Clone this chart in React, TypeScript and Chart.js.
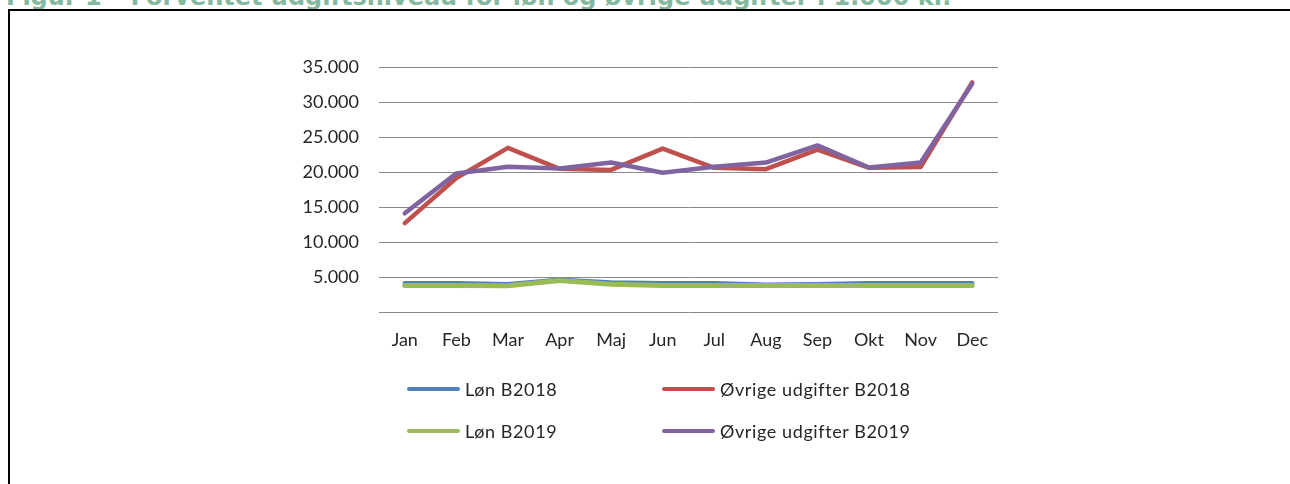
import React, { useEffect, useRef } from "react";
import { Chart, registerables } from "chart.js";

Chart.register(...registerables);

const months = ["Jan", "Feb", "Mar", "Apr", "Maj", "Jun", "Jul", "Aug", "Sep", "Okt", "Nov", "Dec"];
const lonB2018 = [4100, 4100, 3950, 4600, 4200, 4100, 4100, 3900, 3950, 4100, 4100, 4100];
const ovrigeB2018 = [12700, 19150, 23450, 20450, 20300, 23350, 20600, 20400, 23200, 20600, 20700, 32800];
const lonB2019 = [3800, 3800, 3750, 4500, 3950, 3800, 3800, 3800, 3800, 3800, 3800, 3800];
const ovrigeB2019 = [14100, 19800, 20750, 20500, 21350, 19900, 20750, 21350, 23800, 20650, 21350, 32600];
const seriesNames = ["Løn B2018", "Øvrige udgifter B2018", "Løn B2019", "Øvrige udgifter B2019"];
const seriesColors = ["#4F81BD", "#C0504D", "#9BBB59", "#8064A2"];
const seriesWidths = [4.5, 4.5, 5, 4.5];
const yTicks = [0, 5000, 10000, 15000, 20000, 25000, 30000, 35000];
const titleText = "Figur 1 \u2013 Forventet udgiftsniveau for løn og øvrige udgifter i 1.000 kr.";

const fmt = (v: number) => (v === 0 ? "" : String(v).replace(/\B(?=(\d{3})+(?!\d))/g, "."));

const textFont = "Lato, 'Open Sans', sans-serif";
const textColor = "#262626";

export default function App() {
  const ref = useRef<HTMLCanvasElement | null>(null);

  useEffect(() => {
    if (!ref.current) return;
    const allSeries = [lonB2018, ovrigeB2018, lonB2019, ovrigeB2019];
    const drawOrder = [4, 3, 2, 1];
    const chart = new Chart(ref.current, {
      type: "line",
      data: {
        labels: months,
        datasets: allSeries.map((d, i) => ({
          label: seriesNames[i],
          data: d,
          borderColor: seriesColors[i],
          backgroundColor: seriesColors[i],
          borderWidth: seriesWidths[i],
          pointRadius: 0,
          tension: 0,
          borderCapStyle: "round" as const,
          borderJoinStyle: "round" as const,
          order: drawOrder[i],
        })),
      },
      options: {
        animation: false,
        responsive: false,
        maintainAspectRatio: false,
        devicePixelRatio: 1,
        layout: { padding: { top: 67, right: 292, bottom: 132, left: 0 } },
        plugins: {
          legend: { display: false },
          tooltip: { enabled: false },
          title: { display: false },
        },
        scales: {
          x: {
            offset: true,
            grid: { display: false, drawTicks: false, offset: true },
            border: { display: false },
            ticks: {
              padding: 17,
              autoSkip: false,
              maxRotation: 0,
              color: textColor,
              font: { family: textFont, size: 18 },
            },
            afterFit: (s: any) => {
              s.height = 40;
            },
          },
          y: {
            min: 0,
            max: 35000,
            afterBuildTicks: (s: any) => {
              s.ticks = yTicks.map((v) => ({ value: v }));
            },
            grid: { color: "#8a8a8a", lineWidth: 1, drawTicks: false },
            border: { display: false },
            ticks: {
              padding: 20,
              color: textColor,
              font: { family: textFont, size: 18 },
              callback: (v: any) => fmt(Number(v)),
            },
            afterFit: (s: any) => {
              s.width = 379;
            },
          },
        },
      },
    });
    return () => chart.destroy();
  }, []);

  const legendRows = [
    [0, 1],
    [2, 3],
  ];
  const rowY = [389, 431];
  const colX = [407, 662];

  return (
    <div style={{ position: "absolute", left: 0, top: 0, width: 1290, height: 484, overflow: "hidden", background: "#fff" }}>
      <div
        style={{
          position: "absolute",
          left: 6,
          top: -15,
          whiteSpace: "nowrap",
          fontFamily: "'DejaVu Sans', Verdana, sans-serif",
          fontWeight: "bold",
          fontSize: 24,
          lineHeight: "24px",
          color: "#84b99f",
        }}
      >
        {titleText}
      </div>
      <div
        style={{
          position: "absolute",
          left: 8,
          top: 9,
          width: 1400,
          height: 600,
          borderTop: "2px solid #000",
          borderLeft: "2px solid #000",
        }}
      />
      <canvas ref={ref} width={1290} height={484} style={{ position: "absolute", left: 0, top: 0, width: 1290, height: 484 }} />
      {legendRows.map((row, r) =>
        row.map((idx, c) => (
          <div
            key={idx}
            style={{
              position: "absolute",
              left: colX[c],
              top: rowY[r] - 12,
              height: 24,
              display: "flex",
              alignItems: "center",
              whiteSpace: "nowrap",
              fontFamily: textFont,
              fontSize: 18,
              letterSpacing: "0.6px",
              color: textColor,
            }}
          >
            <span style={{ display: "inline-block", width: 53, height: 4.5, borderRadius: 2.5, background: seriesColors[idx], marginRight: 5 }} />
            <span>{seriesNames[idx]}</span>
          </div>
        ))
      )}
    </div>
  );
}
